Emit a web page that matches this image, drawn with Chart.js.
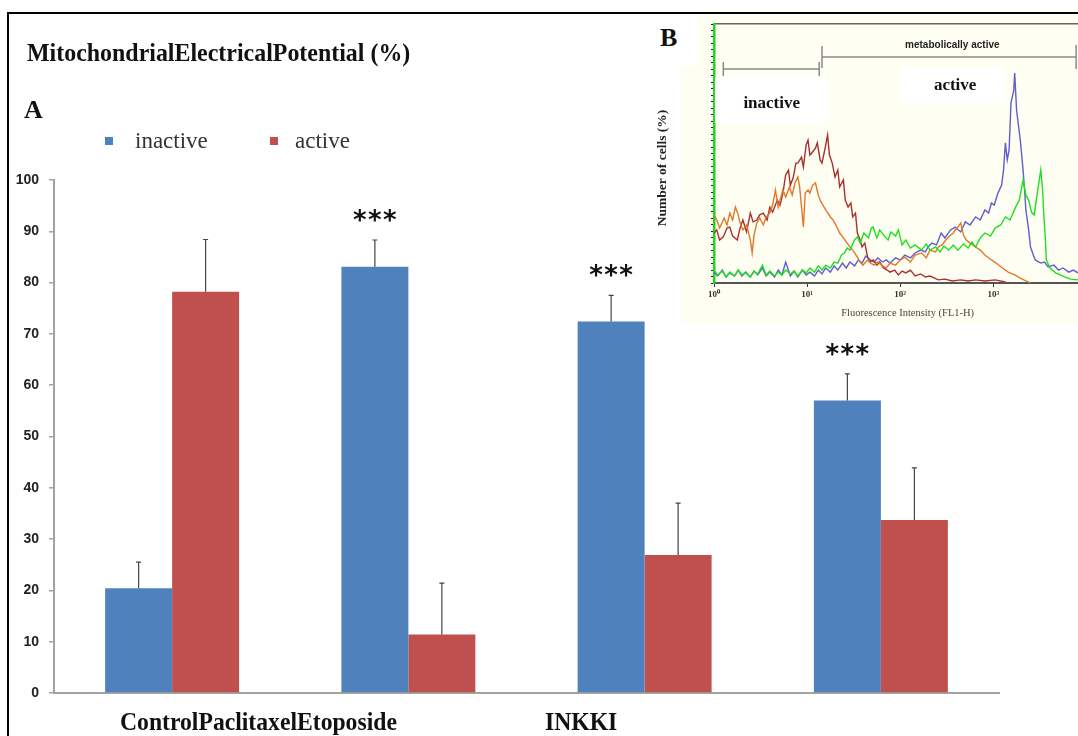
<!DOCTYPE html>
<html>
<head>
<meta charset="utf-8">
<script src="https://cdn.jsdelivr.net/npm/chart.js@4.4.1/dist/chart.umd.min.js"></script>
<style>
  body { margin: 0; background: #fff; }
  #page { position: relative; width: 1078px; height: 736px; overflow: hidden; background: #fff; }
  #frame { position: absolute; left: 7px; top: 12px; width: 1080px; height: 740px; border-left: 2px solid #000; border-top: 2px solid #000; }
  .txt { position: absolute; white-space: nowrap; line-height: 1; color: #111; }
  .serif { font-family: "Liberation Serif", "Times New Roman", serif; }
  #title { left: 27px; top: 40px; font-size: 26px; font-weight: bold; transform: scaleX(0.92); transform-origin: left center; }
  #lblA { left: 24px; top: 97px; font-size: 26px; font-weight: bold; }
  .sw { position: absolute; width: 8px; height: 8px; }
  .leg { top: 129px; font-size: 23px; color: #333; }
  .xl { top: 709px; font-size: 26px; font-weight: bold; transform: scaleX(0.91); transform-origin: left center; }
  #panel { position: absolute; left: 680px; top: 14px; width: 398px; height: 309px; background: #fefef3; }
  #bbox { position: absolute; left: 648px; top: 14px; width: 50px; height: 52px; background: #fff; }
  #lblB { left: 660px; top: 25px; font-size: 26px; font-weight: bold; }
  #mainChart, #insetChart { position: absolute; }
  #mainChart { left: 0; top: 0; }
  #insetChart { left: 650px; top: 14px; }
</style>
</head>
<body>
<div id="page">
  <canvas id="mainChart" width="1078" height="736"></canvas>
  <div id="frame"></div>
  <div class="txt serif" id="title">MitochondrialElectricalPotential (%)</div>
  <div class="txt serif" id="lblA">A</div>
  <div class="sw" style="left:105px;top:137px;background:#4f81bd"></div>
  <div class="txt serif leg" style="left:135px">inactive</div>
  <div class="sw" style="left:270px;top:137px;background:#c0504d"></div>
  <div class="txt serif leg" style="left:295px">active</div>
  <div class="txt serif xl" style="left:120px">ControlPaclitaxelEtoposide</div>
  <div class="txt serif xl" style="left:545px">INKKI</div>
  <div id="panel"></div>
  <div id="bbox"></div>
  <div class="txt serif" id="lblB">B</div>
  <canvas id="insetChart" width="428" height="312"></canvas>
</div>
<script>
// --- dados do painel A (barras) ---
const categories = ['Control', 'Paclitaxel', 'Etoposide', 'INKKI'];
const inactive = [20.4, 83.1, 72.4, 57.0];
const active = [78.2, 11.4, 26.9, 33.7];
const inactiveErr = [5.1, 5.2, 5.1, 5.2];
const activeErr = [10.2, 10.0, 10.1, 10.2];
const signif = ['', '***', '***', '***'];
const yTicks = [0, 10, 20, 30, 40, 50, 60, 70, 80, 90, 100];

// --- dados do painel B (histogramas, x em décadas de log10) ---
const blueX = [0,0.04,0.09,0.13,0.17,0.22,0.26,0.30,0.34,0.39,0.43,0.47,0.52,0.56,0.60,0.65,0.69,0.73,0.77,0.82,0.86,0.90,0.95,0.99,1.03,1.08,1.12,1.16,1.20,1.25,1.29,1.33,1.38,1.42,1.46,1.51,1.55,1.59,1.63,1.68,1.72,1.76,1.81,1.85,1.89,1.95,2.00,2.05,2.11,2.16,2.22,2.27,2.30,2.34,2.39,2.44,2.48,2.54,2.59,2.65,2.70,2.75,2.81,2.86,2.91,2.95,2.98,3.01,3.05,3.09,3.11,3.13,3.15,3.17,3.19,3.22,3.23,3.25,3.27,3.29,3.31,3.32,3.34,3.35,3.38,3.40,3.43,3.45,3.51,3.55,3.59,3.65,3.70,3.75,3.81,3.86,3.91];
const blueY = [4.2,2.7,5.0,2.3,3.9,2.7,5.0,2.7,4.2,2.3,4.6,3.1,5.8,2.7,4.2,2.3,5.0,3.1,8.1,2.7,4.6,2.3,5.0,3.1,4.2,2.7,5.0,3.5,5.8,4.2,6.6,5.0,7.7,5.8,8.1,6.6,8.9,7.7,10.4,8.9,8.1,9.7,8.1,8.9,7.7,9.7,8.9,10.8,9.7,11.6,12.7,12.0,13.9,15.4,14.7,19.3,17.4,20.5,21.6,19.7,23.6,22.4,25.5,24.3,28.2,27.0,30.9,30.1,34.7,37.8,43.6,54.1,47.5,51.4,69.5,74.5,81.1,66.8,61.0,55.2,47.5,43.6,34.0,28.2,20.5,13.9,10.8,8.9,7.7,8.1,6.2,6.9,5.0,5.8,4.2,5.0,3.9];
const greenX = [0,0.04,0.09,0.13,0.17,0.22,0.26,0.30,0.34,0.39,0.43,0.47,0.52,0.56,0.60,0.65,0.69,0.73,0.77,0.82,0.86,0.90,0.95,0.99,1.03,1.08,1.12,1.16,1.20,1.25,1.29,1.33,1.37,1.40,1.43,1.46,1.51,1.54,1.57,1.61,1.66,1.69,1.71,1.75,1.78,1.83,1.87,1.90,1.95,1.98,2.02,2.06,2.11,2.16,2.23,2.28,2.32,2.38,2.43,2.47,2.52,2.57,2.62,2.68,2.73,2.77,2.81,2.86,2.91,2.97,3.02,3.08,3.13,3.18,3.24,3.28,3.32,3.35,3.38,3.41,3.44,3.47,3.51,3.53,3.54,3.56,3.57,3.61,3.67,3.72,3.77,3.83,3.91];
const greenY = [5.0,3.1,4.6,2.3,4.2,2.7,5.0,3.1,3.9,2.3,4.6,3.5,6.9,3.1,4.6,2.7,4.2,3.1,5.0,3.5,4.6,2.7,5.0,3.9,5.8,4.2,6.6,5.0,6.9,5.8,8.1,7.7,10.8,11.6,13.5,12.7,16.6,17.8,15.4,19.3,17.4,21.2,21.6,17.4,20.5,18.1,16.6,19.7,18.1,20.5,14.7,16.6,13.5,14.7,12.7,15.1,12.7,13.9,12.0,14.3,12.7,14.7,12.7,15.1,13.5,15.8,13.9,17.4,19.3,18.1,21.2,22.4,25.5,24.3,29.3,32.0,39.8,34.0,32.0,27.4,26.3,34.0,43.6,35.9,28.2,16.6,8.9,5.8,3.9,3.1,2.3,1.5,1.2];
const redX = [0,0.03,0.06,0.10,0.14,0.17,0.20,0.25,0.28,0.31,0.35,0.39,0.42,0.46,0.49,0.53,0.57,0.60,0.63,0.68,0.71,0.74,0.77,0.80,0.82,0.85,0.88,0.90,0.94,0.96,0.99,1.01,1.03,1.05,1.09,1.11,1.14,1.16,1.19,1.22,1.24,1.27,1.30,1.33,1.35,1.39,1.41,1.44,1.47,1.49,1.52,1.54,1.57,1.59,1.62,1.65,1.68,1.71,1.75,1.78,1.82,1.86,1.89,1.94,1.98,2.02,2.06,2.11,2.16,2.22,2.27,2.32,2.41,2.48,2.56,2.65,2.73,2.81,2.91,3.02,3.13];
const redY = [19.3,20.5,16.6,17.8,21.2,21.6,18.1,16.6,21.2,24.3,19.7,27.0,23.6,24.3,26.3,27.0,24.3,29.3,27.4,32.0,30.1,34.7,41.7,43.6,37.8,40.5,46.3,46.3,48.6,44.8,53.3,55.2,49.4,50.2,52.1,54.1,47.5,46.3,51.4,57.1,49.4,46.3,40.9,43.6,37.1,39.8,32.0,29.3,30.9,25.5,27.0,19.3,16.6,13.9,15.4,10.0,8.1,8.9,6.9,8.1,5.8,5.0,4.2,5.0,3.1,4.6,3.9,5.0,2.7,3.5,2.3,2.7,1.2,1.5,0.8,1.2,0.8,1.2,0.8,1.2,0.4];
const orangeX = [0,0.03,0.06,0.11,0.14,0.17,0.20,0.23,0.26,0.28,0.31,0.35,0.39,0.41,0.43,0.46,0.49,0.53,0.56,0.60,0.63,0.66,0.69,0.71,0.74,0.77,0.81,0.84,0.87,0.90,0.92,0.96,0.98,1.01,1.03,1.06,1.09,1.12,1.14,1.17,1.20,1.25,1.28,1.32,1.35,1.39,1.43,1.46,1.49,1.54,1.57,1.60,1.65,1.68,1.72,1.76,1.81,1.85,1.89,1.95,2.00,2.05,2.11,2.16,2.23,2.28,2.32,2.38,2.41,2.45,2.49,2.54,2.57,2.59,2.62,2.65,2.68,2.71,2.75,2.81,2.86,2.91,2.98,3.03,3.10,3.16,3.23,3.29,3.35,3.40];
const orangeY = [26.3,24.3,21.2,25.1,22.4,27.0,24.3,29.3,26.3,23.2,20.5,22.4,16.6,11.6,18.5,23.2,25.1,22.4,25.5,27.0,30.1,35.9,29.3,32.0,35.9,33.2,37.1,34.0,38.6,40.9,37.1,21.6,34.7,35.9,34.7,37.8,38.6,34.0,32.0,30.1,28.2,25.5,24.3,21.6,19.3,17.4,15.4,13.9,12.7,10.0,8.1,6.9,8.9,7.7,6.9,8.1,6.6,5.8,7.7,6.9,8.9,10.0,8.1,10.8,11.6,9.7,12.7,12.0,13.9,14.7,16.6,18.5,19.3,20.5,21.6,23.2,18.5,16.6,15.4,13.9,12.7,10.8,8.9,7.7,5.8,4.2,3.1,1.9,0.8,0];
const decadeLabels = ['10\u2070', '10\u00b9', '10\u00b2', '10\u00b3'];

const blue = '#4f81bd';
const red = '#c0504d';
const axisGray = '#a3a3a3';

// barras de erro (só para cima) + asteriscos
const errorBars = {
  id: 'errorBars',
  afterDatasetsDraw(chart) {
    const ctx = chart.ctx;
    const y = chart.scales.y;
    const errs = [inactiveErr, activeErr];
    chart.data.datasets.forEach((ds, i) => {
      chart.getDatasetMeta(i).data.forEach((bar, j) => {
        const top = y.getPixelForValue(ds.data[j] + errs[i][j]);
        ctx.save();
        ctx.strokeStyle = '#444';
        ctx.lineWidth = 1.2;
        ctx.beginPath();
        ctx.moveTo(bar.x, bar.y);
        ctx.lineTo(bar.x, top);
        ctx.moveTo(bar.x - 2.5, top);
        ctx.lineTo(bar.x + 2.5, top);
        ctx.stroke();
        if (i === 0 && signif[j]) {
          ctx.fillStyle = '#111';
          ctx.font = 'bold 26px "DejaVu Sans"';
          ctx.textAlign = 'center';
          ctx.textBaseline = 'alphabetic';
          const chars = signif[j].split('');
          chars.forEach((c, k) => {
            ctx.fillText(c, bar.x + (k - (chars.length - 1) / 2) * 15, top - 11);
          });
        }
        ctx.restore();
      });
    });
  }
};

new Chart(document.getElementById('mainChart'), {
  type: 'bar',
  data: {
    labels: categories,
    datasets: [
      { label: 'inactive', data: inactive, backgroundColor: blue, borderWidth: 0 },
      { label: 'active', data: active, backgroundColor: red, borderWidth: 0 }
    ]
  },
  options: {
    responsive: false,
    animation: false,
    devicePixelRatio: 1,
    layout: { padding: { left: 0, top: 180, right: 79, bottom: 43 } },
    datasets: { bar: { categoryPercentage: 0.567, barPercentage: 1 } },
    plugins: { legend: { display: false }, tooltip: { enabled: false } },
    scales: {
      x: {
        ticks: { display: false },
        grid: { display: false, drawTicks: false },
        border: { color: axisGray, width: 2 },
        afterFit: s => { s.height = 0; }
      },
      y: {
        min: 0, max: 100,
        afterBuildTicks: s => { s.ticks = yTicks.map(v => ({ value: v })); },
        ticks: { color: '#222', padding: 10, font: { family: 'Liberation Sans', weight: 'bold', size: 14 } },
        grid: { drawOnChartArea: false, tickLength: 5, color: axisGray, lineWidth: 1.5 },
        border: { color: axisGray, width: 2 },
        afterFit: s => { s.width = 54; }
      }
    }
  },
  plugins: [errorBars]
});

// --- painel B ---
const toPoints = (xs, ys) => xs.map((x, i) => ({ x: x, y: ys[i] }));

const insetDecor = {
  id: 'insetDecor',
  beforeDatasetsDraw(chart) {
    const { ctx, scales: { x, y } } = chart;
    ctx.save();
    ctx.fillStyle = '#fff';
    // caixas brancas atrás dos rótulos
    [[0.01, 1.23, 79.5, 61.8], [2.0, 3.13, 83.4, 69.5]].forEach(b => {
      const x0 = x.getPixelForValue(b[0]), x1 = x.getPixelForValue(b[1]);
      const y0 = y.getPixelForValue(b[2]), y1 = y.getPixelForValue(b[3]);
      ctx.fillRect(x0, y0, x1 - x0, y1 - y0);
    });
    // colchetes
    ctx.strokeStyle = '#8a8a8a';
    ctx.lineWidth = 1.5;
    const bracket = (a, b, v, h1, h2) => {
      const x0 = x.getPixelForValue(a), x1 = x.getPixelForValue(b), py = y.getPixelForValue(v);
      ctx.beginPath();
      ctx.moveTo(x0, py); ctx.lineTo(x1, py);
      ctx.moveTo(x0, py - h1); ctx.lineTo(x0, py + h1);
      ctx.moveTo(x1, py - h2); ctx.lineTo(x1, py + h2);
      ctx.stroke();
    };
    bracket(0.10, 1.13, 82.6, 7, 7);
    bracket(1.16, 3.89, 87.3, 11, 12);
    ctx.restore();
  },
  afterDatasetsDraw(chart) {
    const { ctx, scales: { x, y } } = chart;
    ctx.save();
    ctx.textAlign = 'center';
    ctx.textBaseline = 'middle';
    ctx.fillStyle = '#222';
    ctx.font = 'bold 10px "Liberation Sans"';
    ctx.fillText('metabolically active', x.getPixelForValue(2.56), y.getPixelForValue(91.9));
    ctx.fillStyle = '#111';
    ctx.font = 'bold 17px "Liberation Serif"';
    ctx.fillText('inactive', x.getPixelForValue(0.62), y.getPixelForValue(69.1));
    ctx.fillText('active', x.getPixelForValue(2.59), y.getPixelForValue(76.1));
    // títulos dos eixos
    ctx.fillStyle = '#444';
    ctx.font = '10.5px "Liberation Serif"';
    ctx.fillText('Fluorescence Intensity (FL1-H)', x.getPixelForValue(2.08), chart.height - 13);
    ctx.translate(13, y.getPixelForValue(44.4));
    ctx.rotate(-Math.PI / 2);
    ctx.fillStyle = '#222';
    ctx.font = 'bold 13.5px "Liberation Serif"';
    ctx.fillText('Number of cells (%)', 0, 0);
    ctx.restore();
  }
};

const lineStyle = c => ({ borderColor: c, borderWidth: 1.4, pointRadius: 0, tension: 0, fill: false });

new Chart(document.getElementById('insetChart'), {
  type: 'line',
  data: {
    datasets: [
      Object.assign({ label: 'green', data: toPoints(greenX, greenY) }, lineStyle('#1ee01e')),
      Object.assign({ label: 'orange', data: toPoints(orangeX, orangeY) }, lineStyle('#e2782c')),
      Object.assign({ label: 'red', data: toPoints(redX, redY) }, lineStyle('#a8302e')),
      Object.assign({ label: 'blue', data: toPoints(blueX, blueY) }, lineStyle('#5f5fcc'))
    ]
  },
  options: {
    responsive: false,
    animation: false,
    devicePixelRatio: 1,
    layout: { padding: { left: 0, top: 10, right: 0, bottom: 0 } },
    plugins: { legend: { display: false }, tooltip: { enabled: false } },
    scales: {
      x: {
        type: 'linear', min: 0, max: 3.91,
        ticks: {
          stepSize: 1, color: '#333', padding: 2,
          font: { family: 'Liberation Serif', weight: 'bold', size: 9 },
          callback: v => (Number.isInteger(v) ? decadeLabels[v] : null)
        },
        grid: { drawOnChartArea: false, tickLength: 4, color: '#333' },
        border: { color: '#555', width: 2 },
        afterFit: s => { s.height = 43; }
      },
      xTop: {
        type: 'linear', position: 'top', min: 0, max: 3.91,
        ticks: { display: false },
        grid: { display: false, drawTicks: false },
        border: { color: '#666', width: 1.5 },
        afterFit: s => { s.height = 0; }
      },
      y: {
        min: 0, max: 100,
        ticks: { stepSize: 2.5, autoSkip: false, maxTicksLimit: 100, padding: 2, callback: () => '' },
        grid: { drawOnChartArea: false, tickLength: 3, color: '#222' },
        border: { color: '#1ed81e', width: 2.5 },
        afterFit: s => { s.width = 64; }
      }
    }
  },
  plugins: [insetDecor]
});
</script>
</body>
</html>
